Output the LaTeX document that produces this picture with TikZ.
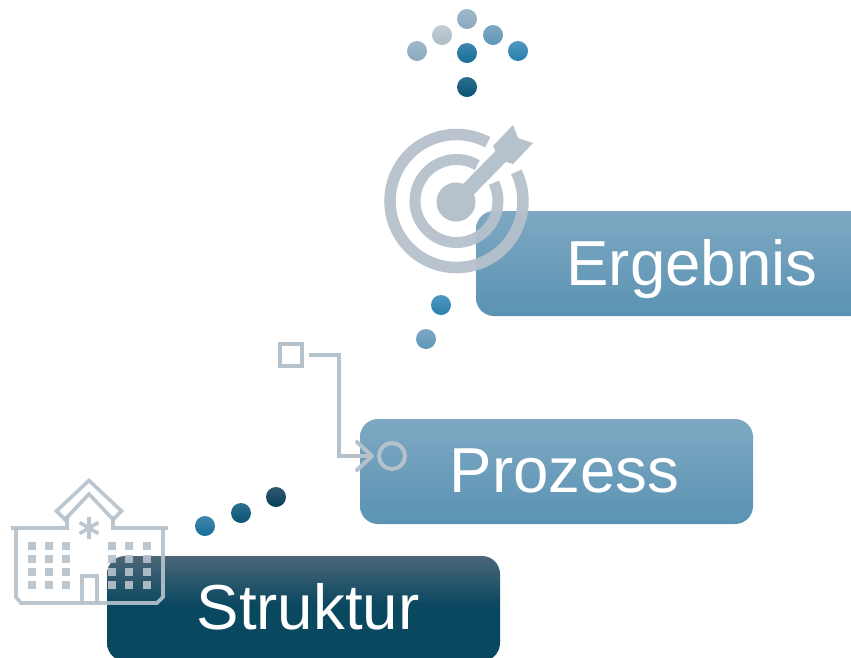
\documentclass[tikz,border=0pt]{standalone}
\usepackage{fontspec}
\setmainfont{Liberation Sans}
\usetikzlibrary{arrows.meta}
\definecolor{iconc}{HTML}{B5C1CB}
\definecolor{strA}{HTML}{0A4860}
\definecolor{strB}{HTML}{4C6679}
\pgfdeclareverticalshading{struktshade}{100bp}{color(0bp)=(strA);color(25bp)=(strA);color(52bp)=(strA);color(75bp)=(strB);color(100bp)=(strB)}
\definecolor{boxtop}{HTML}{7EA8C2}
\definecolor{boxbot}{HTML}{5A93B3}
\definecolor{dA1}{HTML}{9DB7CA}\definecolor{dA2}{HTML}{8CA9BE}
\definecolor{dB1}{HTML}{C2CED6}\definecolor{dB2}{HTML}{ABBAC5}
\definecolor{dC1}{HTML}{7EA8C4}\definecolor{dC2}{HTML}{5E96B6}
\definecolor{dD1}{HTML}{3F87AD}\definecolor{dD2}{HTML}{176D97}
\definecolor{dE1}{HTML}{4E98C0}\definecolor{dE2}{HTML}{2A80AD}
\definecolor{dF1}{HTML}{2C6F8F}\definecolor{dF2}{HTML}{0A5373}
\definecolor{dG1}{HTML}{2F5A70}\definecolor{dG2}{HTML}{043F58}
\tikzset{
  x=1pt,y=-1pt,
  boxbase/.style={rectangle,rounded corners=18pt,minimum width=393pt,minimum height=105pt,inner sep=0pt,outer sep=0pt},
  lightbox/.style={boxbase,top color=boxtop,bottom color=boxbot},
  darkbox/.style={boxbase,shading=struktshade},
  lab/.style={text=white,anchor=base,inner sep=0pt,font=\fontsize{63.6}{70}\selectfont},
  icon/.style={draw=iconc,opacity=.92},
  wall/.style={icon,line width=3.6pt,line join=miter},
  win/.style={fill=iconc,opacity=.92},
  ring/.style={draw=iconc,opacity=.95},
  link/.style={draw=iconc,line width=4pt},
  dot/.style={circle,minimum size=20pt,inner sep=0pt,outer sep=0pt},
  dotA/.style={dot,top color=dA1,bottom color=dA2},
  dotB/.style={dot,top color=dB1,bottom color=dB2},
  dotC/.style={dot,top color=dC1,bottom color=dC2},
  dotD/.style={dot,top color=dD1,bottom color=dD2},
  dotE/.style={dot,top color=dE1,bottom color=dE2},
  dotF/.style={dot,top color=dF1,bottom color=dF2},
  dotG/.style={dot,top color=dG1,bottom color=dG2},
}
\begin{document}
\begin{tikzpicture}
\useasboundingbox (0,0) rectangle (851,657);
\clip (0,0) rectangle (851,657);
% boxes
\node[darkbox] (sbox) at (303.5,608.5) {};
\node[lightbox] (pbox) at (556.5,471.5) {};
\node[lightbox] (ebox) at (672.5,263.5) {};
\node[lab] (stxt) at (308,629) {Struktur};
\node[lab] (ptxt) at (564.5,492) {Prozess};
\node[lab] (etxt) at (692,285) {Ergebnis};
% dots
\node[dotA] (t1) at (467,19) {};
\node[dotB] (t2) at (442,35) {};
\node[dotC] (t3) at (493,35) {};
\node[dotA] (t4) at (417,51) {};
\node[dotD] (t5) at (467,53) {};
\node[dotE] (t6) at (518,51) {};
\node[dotF] (t7) at (467,87) {};
\node[dotE] (m1) at (441,305) {};
\node[dotC] (m2) at (426,339) {};
\node[dotD] (b1) at (205,526) {};
\node[dotF] (b2) at (241,513) {};
\node[dotG] (b3) at (276,497) {};
% target
\draw[ring,line width=11.5pt] (456.5,201)+(-62:66.5) arc[start angle=-62,end angle=-386,radius=66.5];
\draw[ring,line width=11pt] (456.5,201)+(-60:41.5) arc[start angle=-60,end angle=-386,radius=41.5];
\fill[iconc] (456,202) circle[radius=19.5];
\draw[iconc,line width=15pt] (456,202) -- (503,154);
\fill[iconc] (493,146) -- (513,125) -- (518,138) -- (533,143) -- (513,164) -- (500,160) -- cycle;
% process connector
\node[draw=iconc,line width=4pt,minimum size=22pt,inner sep=0pt,outer sep=0pt] (sq) at (291,355) {};
\node[circle,draw=iconc,line width=4pt,minimum size=26pt,inner sep=0pt,outer sep=0pt] (circ) at (392,456) {};
\coordinate (bend) at (339,456);
\draw[link,shorten <=7pt,shorten >=5pt,-{Straight Barb[length=15pt,width=28pt,round]}] (sq.east) -| (bend) -- (circ.west);
% building
\draw[wall] (89,480.5) -- (121.5,511) -- (113,519.5) -- (89,494) -- (65,519.5) -- (56.5,511) -- cycle;
\draw[wall] (67,516) -- (67,528) -- (11,528);
\draw[wall] (113,516) -- (113,528) -- (168,528);
\draw[wall] (16,528) -- (16,597) -- (21,603) -- (157,603) -- (163,597) -- (163,528);
\draw[wall] (82,603) -- (82,576) -- (97,576) -- (97,603);
\draw[icon,line width=3.6pt] (89,517) -- (89,539) (79.5,522.5) -- (98.5,533.5) (79.5,533.5) -- (98.5,522.5);
\foreach \cx in {32,49,66,112,129,147}
  \foreach \cy in {545.7,559,572,585.3}
    \fill[win] (\cx-4.1,\cy-4.1) rectangle (\cx+4.1,\cy+4.1);
\end{tikzpicture}
\end{document}
